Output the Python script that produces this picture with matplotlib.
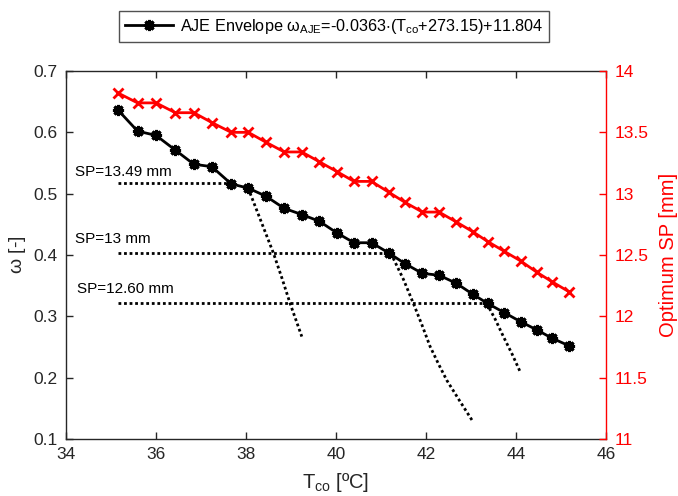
import matplotlib
matplotlib.use('Agg')
import matplotlib.pyplot as plt
from matplotlib.lines import Line2D

plt.rcParams['font.family'] = ['Liberation Sans', 'DejaVu Sans']
plt.rcParams['mathtext.default'] = 'regular'

# ---- data ----
T_co = [35.16, 35.59, 36.00, 36.43, 36.84, 37.24, 37.67, 38.05, 38.44, 38.85,
        39.24, 39.63, 40.02, 40.40, 40.79, 41.18, 41.53, 41.92, 42.29, 42.67,
        43.04, 43.37, 43.74, 44.11, 44.46, 44.81, 45.18]
omega = [0.636, 0.602, 0.595, 0.571, 0.548, 0.544, 0.516, 0.509, 0.496, 0.476,
         0.466, 0.455, 0.436, 0.420, 0.420, 0.403, 0.386, 0.370, 0.367, 0.354,
         0.336, 0.321, 0.306, 0.291, 0.278, 0.264, 0.252]
opt_sp = [13.82, 13.74, 13.74, 13.66, 13.66, 13.58, 13.50, 13.50, 13.42, 13.34,
          13.34, 13.26, 13.18, 13.10, 13.10, 13.01, 12.93, 12.85, 12.85, 12.77,
          12.69, 12.61, 12.53, 12.45, 12.36, 12.28, 12.20]

sp_labels = ['SP=13.49 mm', 'SP=13 mm', 'SP=12.60 mm']
h_omega = [0.518, 0.404, 0.321]
h_T_start = [35.16, 35.16, 35.16]
h_T_end = [37.65, 41.18, 43.38]

c1_T = [38.09, 38.35, 38.61, 38.80, 38.98, 39.24]
c1_w = [0.501, 0.452, 0.403, 0.362, 0.321, 0.267]
c2_T = [41.27, 41.50, 41.72, 41.91, 42.09, 42.28, 42.46, 42.75, 43.02]
c2_w = [0.395, 0.360, 0.321, 0.286, 0.251, 0.222, 0.196, 0.162, 0.131]
c3_T = [43.35, 43.54, 43.72, 43.91, 44.09]
c3_w = [0.321, 0.295, 0.267, 0.239, 0.210]

legend_label = 'AJE Envelope $\\omega_{AJE}$=-0.0363$\\cdot$(T$_{co}$+273.15)+11.804'

# ---- figure ----
fig = plt.figure(figsize=(6.78, 4.96), dpi=100)
ax = fig.add_axes([66/678, 1-439/496, 540/678, 368/496])
ax2 = ax.twinx()

dark = '#262626'
red = '#ff0000'

ax.plot(T_co, omega, color='black', lw=2, marker=(8, 2, 0), ms=8, mew=2.2, zorder=5)
for x0, x1, w in zip(h_T_start, h_T_end, h_omega):
    ax.plot([x0, x1], [w, w], color='black', lw=2, linestyle=(0, (1, 1)))
for cx, cy in [(c1_T, c1_w), (c2_T, c2_w), (c3_T, c3_w)]:
    ax.plot(cx, cy, color='black', lw=2, linestyle=(0, (1, 1)))

text_T = [34.2, 34.2, 34.25]
text_w = [0.529, 0.419, 0.338]
for t, x, y in zip(sp_labels, text_T, text_w):
    ax.text(x, y, t, fontsize=11, color='black', va='baseline', ha='left')

ax2.plot(T_co, opt_sp, color=red, lw=2, marker='x', ms=7, mew=2)

ax.set_xlim(34, 46)
ax.set_ylim(0.1, 0.7)
ax.set_xticks([34, 36, 38, 40, 42, 44, 46])
ax.set_yticks([0.1, 0.2, 0.3, 0.4, 0.5, 0.6, 0.7])
ax.set_yticklabels(['0.1', '0.2', '0.3', '0.4', '0.5', '0.6', '0.7'])
ax2.set_ylim(11, 14)
ax2.set_yticks([11, 11.5, 12, 12.5, 13, 13.5, 14])
ax2.set_yticklabels(['11', '11.5', '12', '12.5', '13', '13.5', '14'])

ax.tick_params(axis='both', direction='in', length=5, width=1, colors=dark,
               labelsize=12.5, top=True, pad=6)
ax.tick_params(axis='y', right=False)
ax2.tick_params(axis='y', direction='in', length=5, width=1, colors=red,
                labelsize=12.5, pad=6)

for s in ['left', 'bottom', 'top']:
    ax.spines[s].set_color(dark)
    ax.spines[s].set_linewidth(1)
for s in ['left', 'bottom', 'top']:
    ax2.spines[s].set_visible(False)
ax2.spines['right'].set_color(red)
ax2.spines['right'].set_linewidth(1)
ax.spines['right'].set_visible(False)

ax.set_xlabel('T$_{co}$ [ºC]', fontsize=14.5, color=dark, labelpad=6)
ax.set_ylabel('$\\omega$ [-]', fontsize=14, color=dark, labelpad=4)
ax2.set_ylabel('Optimum SP [mm]', fontsize=14.5, color=red, labelpad=8)

handle = Line2D([], [], color='black', lw=2, marker=(8, 2, 0), ms=8, mew=2.2)
leg = fig.legend([handle], [legend_label], loc='center',
                 bbox_to_anchor=(334/678, 1-26.5/496), fontsize=11.7,
                 frameon=True, fancybox=False, edgecolor=dark,
                 handlelength=3, borderpad=0.35, handletextpad=0.4)
leg.get_frame().set_linewidth(1)

fig.savefig('out.png', dpi=100)
